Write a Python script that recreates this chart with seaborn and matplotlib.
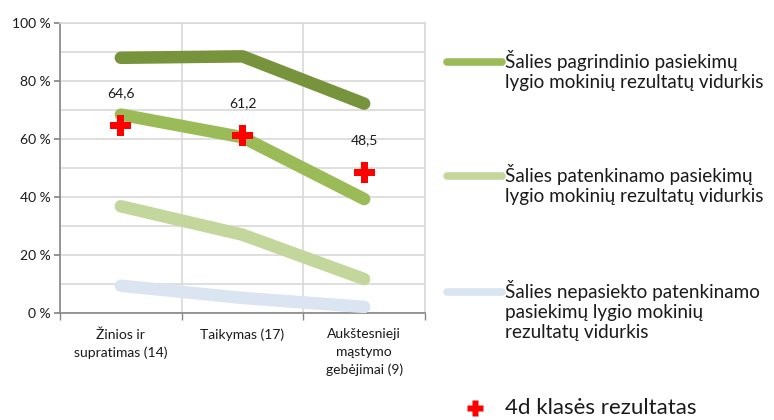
import numpy as np
import pandas as pd
import matplotlib
matplotlib.use('Agg')
import matplotlib.pyplot as plt
import seaborn as sns
from matplotlib.lines import Line2D
from matplotlib.ticker import MultipleLocator, FixedLocator

sns.set_theme(style="white")
plt.rcParams['font.family'] = ['Lato', 'DejaVu Sans']

# data
categories = ['Žinios ir\nsupratimas (14)', 'Taikymas (17)', 'Aukštesnieji\nmąstymo\ngebėjimai (9)']
aukstesnysis = [88.0, 88.5, 72.2]
pagrindinis = [68.4, 60.6, 39.3]
patenkinamas = [36.8, 27.0, 11.7]
nepasiektas = [9.4, 5.2, 2.1]
klase_4d = [64.6, 61.2, 48.5]
klase_labels = ['64,6', '61,2', '48,5']

series_names = [
    'Šalies aukštesniojo pasiekimų\nlygio mokinių rezultatų vidurkis',
    'Šalies pagrindinio pasiekimų\nlygio mokinių rezultatų vidurkis',
    'Šalies patenkinamo pasiekimų\nlygio mokinių rezultatų vidurkis',
    'Šalies nepasiekto patenkinamo\npasiekimų lygio mokinių\nrezultatų vidurkis',
]
colors = ['#77933C', '#9BBB59', '#C3D69B', '#DBE5F1']
marker_label = '4d klasės rezultatas'

x = np.arange(len(categories))
df = pd.DataFrame({
    'x': np.tile(x, 4),
    'value': aukstesnysis + pagrindinis + patenkinamas + nepasiektas,
    'series': np.repeat(series_names, len(categories)),
})

fig = plt.figure(figsize=(7.74, 4.20), dpi=100)
ax = fig.add_axes([60 / 774, 107 / 420, 365 / 774, 290 / 420])

grid_c = '#D9D9D9'
ax.set_axisbelow(True)
for i, name in enumerate(series_names):
    sub = df[df['series'] == name]
    sns.lineplot(data=sub, x='x', y='value', color=colors[i], linewidth=9,
                 solid_capstyle='round', solid_joinstyle='round', ax=ax,
                 legend=False, zorder=3)

sns.scatterplot(x=x, y=klase_4d, marker='P', s=230, color='#FF0000',
                edgecolor='none', ax=ax, zorder=5, legend=False)
for xi, yi, lab in zip(x, klase_4d, klase_labels):
    ax.annotate(lab, (xi, yi), xytext=(0, 19), textcoords='offset points',
                ha='center', va='bottom', fontsize=10, color='#1a1a1a')

ax.set_xlim(-0.5, 2.5)
ax.set_ylim(0, 100)
ax.yaxis.set_major_locator(MultipleLocator(20))
ax.yaxis.set_minor_locator(MultipleLocator(10))
ax.set_yticklabels([f'{int(v)} %' for v in ax.get_yticks()])
ax.xaxis.set_major_locator(FixedLocator(x))
ax.xaxis.set_minor_locator(FixedLocator([-0.5, 0.5, 1.5, 2.5]))
ax.set_xticklabels(categories, fontsize=10, color='#1a1a1a', linespacing=1.55)
ax.tick_params(axis='y', which='major', length=4, color='#868686', labelsize=10,
               labelcolor='#1a1a1a', pad=3, left=True)
ax.tick_params(axis='y', which='minor', length=0, left=False)
ax.tick_params(axis='x', which='major', length=0, pad=11, bottom=True)
ax.tick_params(axis='x', which='minor', length=5, color='#868686', bottom=True)
ax.grid(True, axis='y', which='both', color=grid_c, linewidth=1.2)
ax.grid(True, axis='x', which='minor', color=grid_c, linewidth=1.2)
ax.grid(False, axis='x', which='major')
ax.set_xlabel('')
ax.set_ylabel('')
for s in ['left', 'bottom']:
    ax.spines[s].set_color('#868686')
    ax.spines[s].set_linewidth(1.2)
for s in ['top', 'right']:
    ax.spines[s].set_color(grid_c)
    ax.spines[s].set_linewidth(1.2)

# legend drawn by hand: handle aligned with first text line
H = 420
entries = [(62, 1), (176, 2), (292, 3)]
for y, idx in entries:
    yf = 1 - y / H
    fig.add_artist(Line2D([447 / 774, 502 / 774], [yf, yf], color=colors[idx],
                          linewidth=5.5, solid_capstyle='round',
                          transform=fig.transFigure))
    fig.text(505 / 774, 1 - (y - 12) / H, series_names[idx], fontsize=13.6,
             va='top', ha='left', color='#1a1a1a', linespacing=1.22)

fig.add_artist(Line2D([475 / 774], [1 - 408 / H], marker='P', markersize=12,
                      color='#FF0000', markeredgecolor='none', linestyle='none',
                      transform=fig.transFigure))
fig.text(505 / 774, 1 - 408 / H, marker_label, fontsize=16, va='center',
         ha='left', color='#1a1a1a')

fig.savefig('out.png', dpi=100)
